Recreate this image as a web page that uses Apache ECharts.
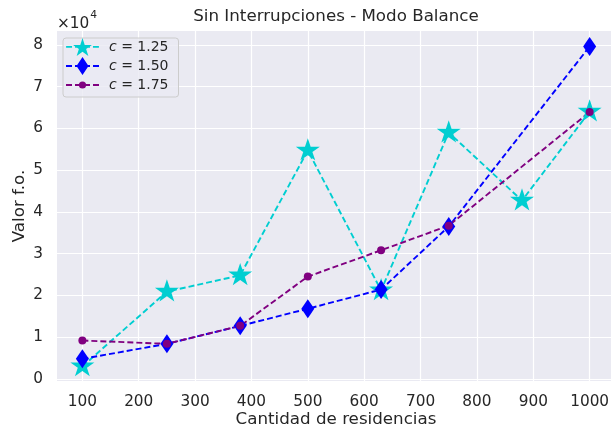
<!DOCTYPE html>
<html>
<head>
<meta charset="utf-8">
<script src="https://cdn.jsdelivr.net/npm/echarts@6/dist/echarts.min.js"></script>
<style>
  html, body { margin: 0; padding: 0; background: #ffffff; }
  #chart { width: 611px; height: 429px; }
</style>
</head>
<body>
<div id="chart"></div>
<script>
// Cantidad de residencias evaluadas en cada corrida
const residencias = [100, 250, 380, 500, 630, 750, 880, 1000];
const residenciasSin880 = [100, 250, 380, 500, 630, 750, 1000];

// Valor de la función objetivo por factor c
const valoresC125 = [3000, 20900, 24800, 54700, 21200, 59000, 42700, 64000];
const valoresC150 = [4800, 8400, 12700, 16800, 21400, 36500, 79600];
const valoresC175 = [9200, 8400, 12700, 24500, 30800, 36700, 63900];

const nombresSeries = ['c = 1.25', 'c = 1.50', 'c = 1.75'];

// Marcas de los ejes
const ticksX = [100, 200, 300, 400, 500, 600, 700, 800, 900, 1000];
const ticksY = [0, 10000, 20000, 30000, 40000, 50000, 60000, 70000, 80000];

const FONT = 'DejaVu Sans';
const TEXT = '#262626';

function pares(xs, ys) {
  return xs.map((x, i) => [x, ys[i]]);
}

// Estrella de cinco puntas (radio exterior 10, interior 3.82)
const puntosEstrella = [
  [10, 0], [12.245, 6.91], [19.511, 6.91], [13.633, 11.18], [15.878, 18.09],
  [10, 13.82], [4.122, 18.09], [6.367, 11.18], [0.489, 6.91], [7.755, 6.91]
];
function rutaEstrella(dx, s) {
  return 'M' + puntosEstrella.map(p => (dx + p[0] * s).toFixed(3) + ' ' + (p[1] * s).toFixed(3)).join('L') + 'Z';
}
// punto mínimo abajo para que el centro del símbolo coincida con el centro de la estrella
const simboloEstrella = 'path://' + rutaEstrella(0, 1) + ' M10 19.99h0.01v0.01h-0.01Z';

// Iconos de la leyenda: línea discontinua + marcador, en una caja de 33x18
function rect(x0, x1) {
  return 'M' + x0 + ' 8.1h' + (x1 - x0) + 'v1.8h' + (x0 - x1) + 'Z';
}
const guiones = [[0, 6], [9, 15], [18, 24], [27, 33]].map(d => rect(d[0], d[1])).join(' ');
const esquinas = ' M0 0h0.01v0.01h-0.01Z M32.99 17.99h0.01v0.01h-0.01Z';
const iconoEstrella = 'path://' + guiones + ' ' + rutaEstrella(6.5, 1) + esquinas;
const iconoRombo = 'path://' + guiones + ' M16.5 0L22.5 9L16.5 18L10.5 9Z' + esquinas;
const iconoCirculo = 'path://' + guiones + ' M12.9 9a3.6 3.6 0 1 1 7.2 0a3.6 3.6 0 1 1 -7.2 0Z' + esquinas;

const chart = echarts.init(document.getElementById('chart'), null, { renderer: 'canvas' });

const guion = [6, 3];

chart.setOption({
  animation: false,
  backgroundColor: '#ffffff',
  textStyle: { fontFamily: FONT },
  grid: {
    left: 57, top: 31, width: 558, height: 350,
    outerBoundsMode: 'none', containLabel: false,
    backgroundColor: '#EAEAF2', show: true, borderWidth: 0
  },
  graphic: [
    {
      type: 'text', x: 336, y: 17, silent: true,
      style: { text: 'Sin Interrupciones - Modo Balance', fontFamily: FONT, fontSize: 16.7, fill: TEXT, align: 'center', verticalAlign: 'middle' }
    },
    {
      type: 'text', x: 57, y: 10, silent: true,
      style: {
        text: '{a|×10}{b|4}',
        align: 'left', verticalAlign: 'top',
        rich: {
          a: { fontFamily: FONT, fontSize: 15.3, fill: TEXT, lineHeight: 22, verticalAlign: 'bottom' },
          b: { fontFamily: FONT, fontSize: 10.7, fill: TEXT, lineHeight: 22, verticalAlign: 'top', padding: [0, 0, 0, 1] }
        }
      }
    }
  ],
  legend: {
    left: 63, top: 38,
    orient: 'vertical',
    padding: [0, 10, 3, 3],
    itemWidth: 33, itemHeight: 18, itemGap: 1,
    selectedMode: false,
    backgroundColor: 'rgba(234,234,242,0.8)',
    borderColor: '#cccccc', borderWidth: 1, borderRadius: 3,
    itemStyle: { borderWidth: 0 },
    data: [
      { name: nombresSeries[0], icon: iconoEstrella },
      { name: nombresSeries[1], icon: iconoRombo },
      { name: nombresSeries[2], icon: iconoCirculo }
    ],
    formatter: name => '{i|c}{t|' + name.slice(1) + '}',
    textStyle: {
      fontFamily: FONT, fontSize: 14, color: TEXT,
      rich: {
        i: { fontFamily: FONT, fontSize: 14, fontStyle: 'italic', color: TEXT, padding: [0, 0, 0, 5] },
        t: { fontFamily: FONT, fontSize: 14, color: TEXT }
      }
    }
  },
  xAxis: {
    type: 'value', min: 55, max: 1045,
    name: 'Cantidad de residencias', nameLocation: 'middle', nameGap: 30, nameMoveOverlap: false,
    nameTextStyle: { fontFamily: FONT, fontSize: 16.7, color: TEXT },
    axisLine: { show: false },
    axisTick: { show: false, customValues: ticksX },
    axisLabel: { customValues: ticksX, margin: 14, fontFamily: FONT, fontSize: 15.3, color: TEXT, formatter: v => String(v) },
    splitLine: { show: true, lineStyle: { color: '#ffffff', width: 1.2 } }
  },
  yAxis: {
    type: 'value', min: -500, max: 83300,
    name: 'Valor f.o.', nameLocation: 'middle', nameGap: 29, nameRotate: 90, nameMoveOverlap: false,
    nameTextStyle: { fontFamily: FONT, fontSize: 16.7, color: TEXT },
    axisLine: { show: false },
    axisTick: { show: false, customValues: ticksY },
    axisLabel: { customValues: ticksY, margin: 14, fontFamily: FONT, fontSize: 15.3, color: TEXT, formatter: v => String(Math.round(v / 10000)) },
    splitLine: { show: true, lineStyle: { color: '#ffffff', width: 1.2 } }
  },
  series: [
    {
      name: nombresSeries[0], type: 'line',
      data: pares(residencias, valoresC125),
      symbol: simboloEstrella, symbolSize: [24, 24.5], symbolKeepAspect: false,
      itemStyle: { color: '#00CED1', borderWidth: 0 },
      lineStyle: { color: '#00CED1', width: 1.9, type: guion },
      emphasis: { disabled: true }
    },
    {
      name: nombresSeries[1], type: 'line',
      data: pares(residenciasSin880, valoresC150),
      symbol: 'diamond', symbolSize: [13, 19],
      itemStyle: { color: '#0000FF', borderWidth: 0 },
      lineStyle: { color: '#0000FF', width: 1.9, type: guion },
      emphasis: { disabled: true }
    },
    {
      name: nombresSeries[2], type: 'line',
      data: pares(residenciasSin880, valoresC175),
      symbol: 'circle', symbolSize: 8,
      itemStyle: { color: '#800080', borderWidth: 0 },
      lineStyle: { color: '#800080', width: 1.9, type: guion },
      emphasis: { disabled: true }
    }
  ]
});
</script>
</body>
</html>
